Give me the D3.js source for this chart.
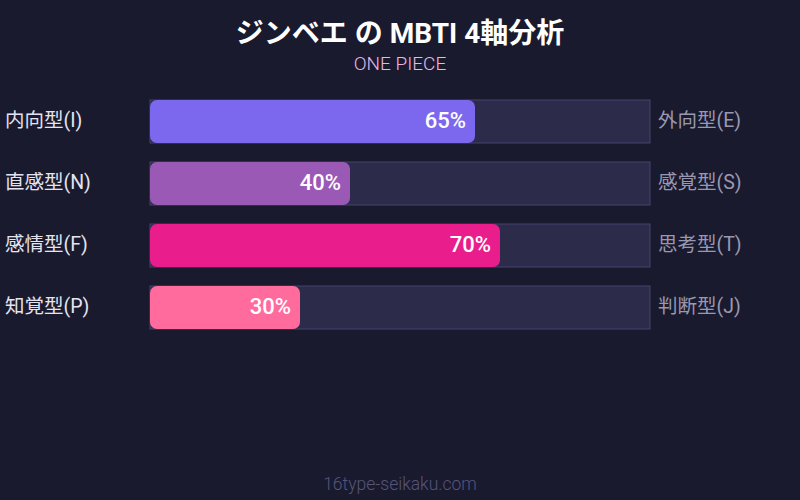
<!DOCTYPE html>
<html>
<head>
<meta charset="utf-8">
<script src="https://cdn.jsdelivr.net/npm/d3@7"></script>
<style>
  body { margin: 0; background: #1a1a2e; }
  svg { display: block; font-family: Roboto, "Noto Sans CJK JP", sans-serif; }
</style>
</head>
<body>
<script>
    //consts
        const width = 800;
        const height = 500;
        const left = 150, right = 650;

    //data
        const leftLabels = ["内向型(I)", "直感型(N)", "感情型(F)", "知覚型(P)"];
        const rightLabels = ["外向型(E)", "感覚型(S)", "思考型(T)", "判断型(J)"];
        const values = [65, 40, 70, 30];
        const colors = ["#7b68ee", "#9b59b6", "#e91e8c", "#ff6b9d"];

    //scales
        const xScale = d3.scaleLinear()
                        .domain([0, 100])
                        .range([left, right]);

        const yScale = d3.scaleBand()
                        .domain(d3.range(values.length))
                        .range([100, 329])
                        .paddingInner(19 / 62);

    //svg
        const svg = d3.select("body")
                    .append("svg")
                    .attr("width", width)
                    .attr("height", height);

        svg.append("rect")
            .attr("width", width)
            .attr("height", height)
            .attr("fill", "#1a1a2e");

    //titles
        svg.append("text")
            .attr("x", 400).attr("y", 43)
            .attr("text-anchor", "middle")
            .attr("font-size", 28).attr("font-weight", "bold")
            .attr("fill", "#ffffff")
            .text("ジンベエ の MBTI 4軸分析");

        svg.append("text")
            .attr("x", 400).attr("y", 70)
            .attr("text-anchor", "middle")
            .attr("font-size", 19).attr("font-weight", 300)
            .attr("fill", "#e6b8e8")
            .text("ONE PIECE");

    //rows
        const rows = svg.selectAll("g.row")
            .data(values)
            .enter()
            .append("g")
            .attr("class", "row");

        // track
        rows.append("rect")
            .attr("x", xScale(0))
            .attr("y", (d, i) => yScale(i))
            .attr("width", xScale(100) - xScale(0))
            .attr("height", yScale.bandwidth())
            .attr("fill", "#2d2b4a")
            .attr("stroke", "#45436a")
            .attr("stroke-width", 1);

        // bar
        rows.append("rect")
            .attr("x", xScale(0))
            .attr("y", (d, i) => yScale(i))
            .attr("width", d => xScale(d) - xScale(0))
            .attr("height", yScale.bandwidth())
            .attr("rx", 7)
            .attr("fill", (d, i) => colors[i]);

        // percent
        rows.append("text")
            .attr("x", d => xScale(d) - 9)
            .attr("y", (d, i) => yScale(i) + yScale.bandwidth() / 2 + 6)
            .attr("text-anchor", "end")
            .attr("font-size", 22).attr("font-weight", 500)
            .attr("fill", "#ffffff")
            .text(d => d + "%");

        // labels
        rows.append("text")
            .attr("x", 5)
            .attr("y", (d, i) => yScale(i) + yScale.bandwidth() / 2 + 5)
            .attr("font-size", 19.5)
            .attr("fill", "#e4e4f0")
            .text((d, i) => leftLabels[i]);

        rows.append("text")
            .attr("x", 658)
            .attr("y", (d, i) => yScale(i) + yScale.bandwidth() / 2 + 5)
            .attr("font-size", 19.5)
            .attr("fill", "#9a98b0")
            .text((d, i) => rightLabels[i]);

    //footer
        svg.append("text")
            .attr("x", 400).attr("y", 490)
            .attr("text-anchor", "middle")
            .attr("font-size", 17.5).attr("font-weight", 300)
            .attr("fill", "#55557a")
            .text("16type-seikaku.com");
</script>
</body>
</html>
